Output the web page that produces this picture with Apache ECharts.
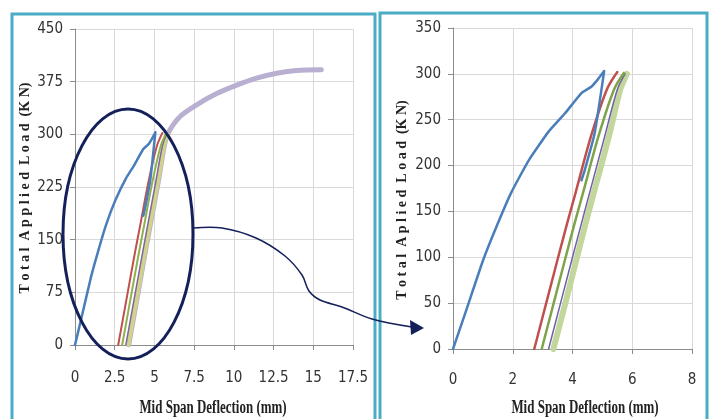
<!DOCTYPE html>
<html><head><meta charset="utf-8">
<script src="https://cdn.jsdelivr.net/npm/echarts@6/dist/echarts.min.js"></script>
<style>html,body{margin:0;padding:0;background:#fff}#c{width:713px;height:419px}</style>
</head><body><div id="c"></div>
<script>
// ---- data ----
var leftXTicks = [0, 2.5, 5, 7.5, 10, 12.5, 15, 17.5];
var leftYTicks = [0, 75, 150, 225, 300, 375, 450];
var rightXTicks = [0, 2, 4, 6, 8];
var rightYTicks = [0, 50, 100, 150, 200, 250, 300, 350];

var blueX = [0, 0.40, 1.01, 1.45, 1.94, 2.54, 3.2, 3.75, 4.3, 4.63, 4.85, 5.06, 4.74, 4.41, 4.3];
var blueY = [0, 38, 97, 133, 170, 206, 237, 257, 279, 286, 294, 303, 235, 195, 184];
var redX = [2.72, 3.12, 3.52, 3.82, 4.1, 4.62, 5.15, 5.5];
var redY = [0, 50, 100, 137, 170, 232, 283, 302];
var greenX = [2.97, 3.37, 3.77, 4.07, 4.35, 4.87, 5.39, 5.72];
var greenY = [0, 50, 100, 137, 170, 232, 283, 301];
var purpleX = [3.2, 3.6, 4.0, 4.3, 4.57, 5.08, 5.5, 5.76];
var purpleY = [0, 50, 100, 137, 170, 232, 283, 300];
var lgreenX = [3.36, 3.76, 4.15, 4.44, 4.71, 5.22, 5.6, 5.82];
var lgreenY = [0, 50, 100, 137, 170, 232, 283, 300];
var lavX = [3.38, 3.78, 4.17, 4.46, 4.73, 5.24, 5.62, 5.87, 6.6, 7.66, 8.92, 10.18, 11.43, 12.7, 13.95, 15.5];
var lavY = [0, 50, 100, 137, 170, 232, 283, 302, 325, 342, 358, 370, 380, 387, 391, 392];

function zip(xs, ys) { return xs.map(function (x, i) { return [x, ys[i]]; }); }

var tickFont = "'Liberation Sans Narrow','DejaVu Sans Condensed',sans-serif";
var titleFont = '"Liberation Serif","Times New Roman",serif';

function xAxis(idx, ticks, margin) {
  return {
    type: 'value', gridIndex: idx, min: ticks[0], max: ticks[ticks.length - 1], interval: ticks[1] - ticks[0],
    axisLine: { show: true, lineStyle: { color: '#8c8c8c', width: 1 } },
    axisTick: { show: true, length: 5, lineStyle: { color: '#8c8c8c' } },
    axisLabel: { margin: margin, fontFamily: tickFont, fontSize: 15, color: '#333' },
    splitLine: { show: true, lineStyle: { color: '#d9d9d9', width: 1 } }
  };
}
function yAxis(idx, ticks) {
  return {
    type: 'value', gridIndex: idx, min: ticks[0], max: ticks[ticks.length - 1], interval: ticks[1] - ticks[0],
    axisLine: { show: true, onZero: false, lineStyle: { color: '#8c8c8c', width: 1 } },
    axisTick: { show: true, length: 5, lineStyle: { color: '#8c8c8c' } },
    axisLabel: { margin: 12, fontFamily: tickFont, fontSize: 15, color: '#333' },
    splitLine: { show: true, lineStyle: { color: '#d9d9d9', width: 1 } }
  };
}
function line(name, xi, data, color, width, z, smooth) {
  return {
    name: name, type: 'line', xAxisIndex: xi, yAxisIndex: xi, data: data,
    showSymbol: false, symbol: 'none', smooth: smooth || 0.15, z: z || 2,
    lineStyle: { color: color, width: width, cap: 'round', join: 'round' }, clip: true
  };
}

var chart = echarts.init(document.getElementById('c'), null, { renderer: 'canvas' });
chart.setOption({
  backgroundColor: '#ffffff',
  animation: false,
  grid: [
    { left: 75, right: 360, top: 29, bottom: 74 },
    { left: 453, right: 21, top: 28, bottom: 70 }
  ],
  xAxis: [xAxis(0, leftXTicks, 26), xAxis(1, rightXTicks, 24)],
  yAxis: [yAxis(0, leftYTicks), yAxis(1, rightYTicks)],
  series: [
    line('L-lav', 0, zip(lavX, lavY), '#b9afd1', 5, 1, 0.3),
    line('L-lgreen', 0, zip(lgreenX, lgreenY), '#cfd48a', 4, 2, 0.3),
    line('L-purple', 0, zip(purpleX, purpleY), '#8064a2', 1.5, 3, 0.3),
    line('L-green', 0, zip(greenX, greenY), '#8fb04e', 2, 3, 0.3),
    line('L-red', 0, zip(redX, redY), '#c0504d', 2, 3, 0.3),
    line('L-blue', 0, zip(blueX, blueY), '#4a7ebb', 2.5, 4),
    line('R-lgreen', 1, zip(lgreenX, lgreenY), '#c3d69b', 6, 1, 0.3),
    line('R-purple', 1, zip(purpleX, purpleY), '#7060a8', 1.5, 3, 0.3),
    line('R-green', 1, zip(greenX, greenY), '#7fa34a', 2.5, 3, 0.3),
    line('R-red', 1, zip(redX, redY), '#c0504d', 2.5, 3, 0.3),
    line('R-blue', 1, zip(blueX, blueY), '#4a7ebb', 2.5, 4)
  ],
  graphic: [
    { type: 'rect', shape: { x: 12, y: 14, width: 363, height: 420 }, style: { fill: 'none', stroke: '#4bacc6', lineWidth: 3 }, z: 10 },
    { type: 'rect', shape: { x: 380, y: 13, width: 327, height: 420 }, style: { fill: 'none', stroke: '#4bacc6', lineWidth: 3 }, z: 10 },
    { type: 'ellipse', shape: { cx: 128, cy: 234, rx: 65, ry: 125 }, style: { fill: 'none', stroke: '#14205a', lineWidth: 3 }, z: 20 },
    { type: 'polyline', shape: { smooth: 0.35, points: [[193, 228], [222, 228], [256, 238], [285, 256], [302, 275], [309, 291], [320, 300], [342, 307], [372, 319], [412, 327]] },
      style: { fill: 'none', stroke: '#14205a', lineWidth: 1.5 }, z: 20 },
    { type: 'polygon', shape: { points: [[424, 328], [410, 320], [411, 335]] }, style: { fill: '#14205a' }, z: 20 },
    { type: 'text', x: 213, y: 408, scaleX: 0.72, z: 20,
      style: { text: 'Mid Span Deflection (mm)', font: 'bold 18px ' + titleFont, fill: '#222', textAlign: 'center', textVerticalAlign: 'middle', align: 'center', verticalAlign: 'middle' } },
    { type: 'text', x: 585, y: 408, scaleX: 0.72, z: 20,
      style: { text: 'Mid Span Deflection (mm)', font: 'bold 18px ' + titleFont, fill: '#222', textAlign: 'center', textVerticalAlign: 'middle', align: 'center', verticalAlign: 'middle' } },
    { type: 'text', x: 25, y: 188, rotation: Math.PI / 2, z: 20,
      style: { text: 'T o t a l  A p p l i e d  L o a d  (K N)', font: 'bold 14px ' + titleFont, fill: '#222', textAlign: 'center', textVerticalAlign: 'middle', align: 'center', verticalAlign: 'middle' } },
    { type: 'text', x: 402, y: 200, rotation: Math.PI / 2, z: 20,
      style: { text: 'T o t a l  A p l i e d  L o a d  (K N)', font: 'bold 14px ' + titleFont, fill: '#222', textAlign: 'center', textVerticalAlign: 'middle', align: 'center', verticalAlign: 'middle' } }
  ]
});
</script></body></html>
